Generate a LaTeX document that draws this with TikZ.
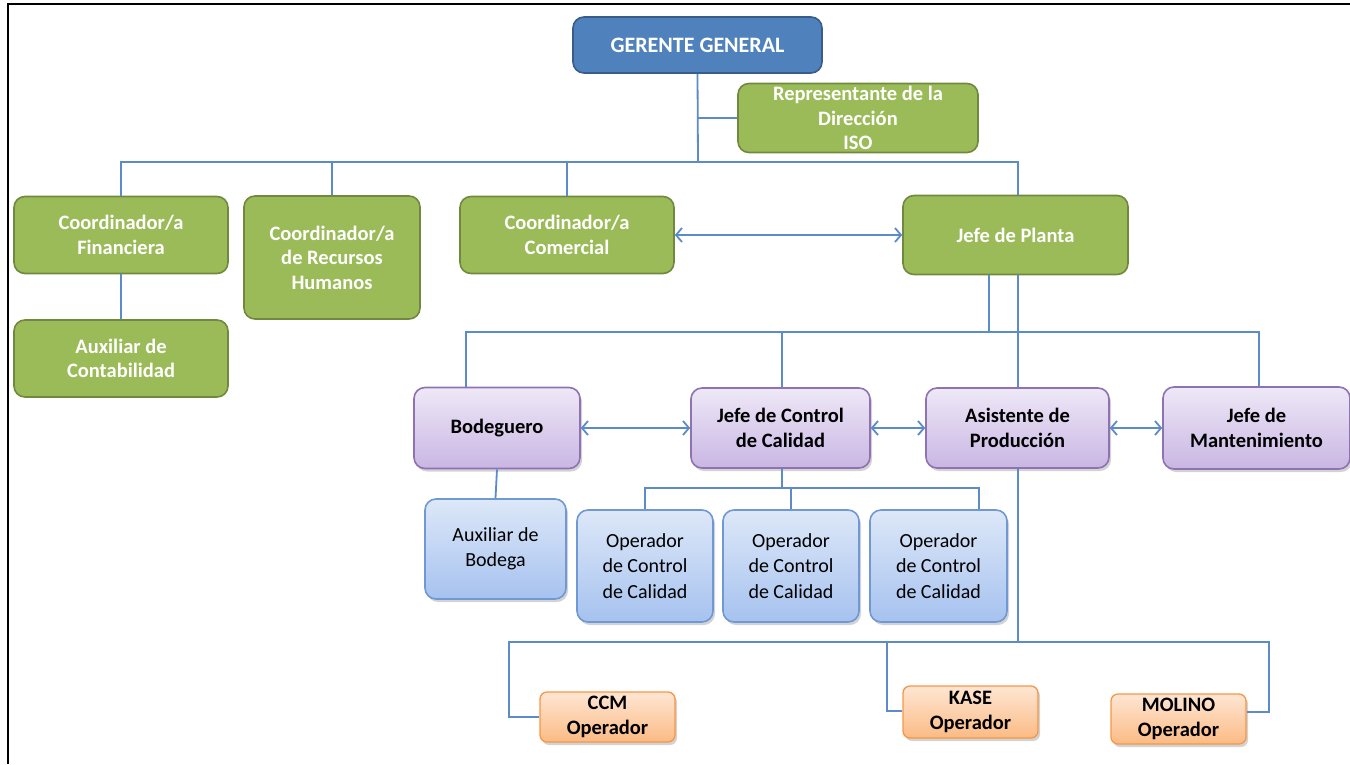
\documentclass[tikz,border=0pt]{standalone}
\usepackage{fontspec}
\setmainfont{Carlito}
\usetikzlibrary{arrows.meta,shadows}
\definecolor{azul}{HTML}{4F81BD}
\definecolor{azulosc}{HTML}{385D8A}
\definecolor{verde}{HTML}{9BBB59}
\definecolor{verdeosc}{HTML}{71893F}
\definecolor{lineaazul}{HTML}{5B8BC8}
\definecolor{moradoarr}{HTML}{EEE8F7}
\definecolor{moradoab}{HTML}{C9B6E3}
\definecolor{moradoosc}{HTML}{8E72B2}
\definecolor{celestearr}{HTML}{DDE8F8}
\definecolor{celesteab}{HTML}{A6C2EF}
\definecolor{celesteosc}{HTML}{6F98D4}
\definecolor{naranjaarr}{HTML}{FEE6D3}
\definecolor{naranjaab}{HTML}{FBBB85}
\definecolor{naranjaosc}{HTML}{F79646}
\begin{document}
\begin{tikzpicture}[x=1pt, y=-1pt,
  caja/.style={rounded corners=11pt, line width=1.6pt, align=center, inner sep=0pt,
    font=\fontsize{20.5}{24.5}\selectfont\bfseries},
  gerente/.style={caja, fill=azul, draw=azulosc, text=white, font=\fontsize{22}{26}\selectfont\bfseries},
  verdecaja/.style={caja, fill=verde, draw=verdeosc, text=white},
  sombra/.style={drop shadow={opacity=0.35, shadow xshift=2pt, shadow yshift=-3pt}},
  morado/.style={caja, sombra, top color=moradoarr, bottom color=moradoab, draw=moradoosc},
  celeste/.style={caja, sombra, top color=celestearr, bottom color=celesteab, draw=celesteosc,
    font=\fontsize{20}{25.5}\selectfont},
  naranja/.style={caja, sombra, rounded corners=7pt, line width=1.3pt, top color=naranjaarr,
    bottom color=naranjaab, draw=naranjaosc},
  linea/.style={draw=lineaazul, line width=1.8pt},
  doble/.style={linea, {Straight Barb[length=6pt,width=14pt]}-{Straight Barb[length=6pt,width=14pt]}}]
  \useasboundingbox (0,0) rectangle (1350,764);
  \draw[line width=2.5pt] (8,764) -- (8,4) -- (1350,4);

  % primer nivel
  \node[gerente, minimum width=249pt, minimum height=56pt] (gg) at (697.5,45) {GERENTE GENERAL};
  \node[verdecaja, minimum width=240pt, minimum height=69pt] (rep) at (858,118) {Representante de la\\Dirección\\ISO};

  % coordinadores
  \node[verdecaja, minimum width=214pt, minimum height=77pt] (cfin) at (121,235) {Coordinador/a\\Financiera};
  \node[verdecaja, minimum width=176pt, minimum height=123pt] (crh) at (332,257.5) {Coordinador/a\\de Recursos\\Humanos};
  \node[verdecaja, minimum width=214pt, minimum height=77pt] (ccom) at (567,235) {Coordinador/a\\Comercial};
  \node[verdecaja, minimum width=225pt, minimum height=79pt] (jplanta) at (1015.5,235) {Jefe de Planta};
  \node[verdecaja, minimum width=214pt, minimum height=77pt] (auxcont) at (121,358.5) {Auxiliar de\\Contabilidad};

  % planta
  \node[morado, minimum width=166pt, minimum height=81pt] (bodeg) at (497,428) {Bodeguero};
  \node[morado, minimum width=179pt, minimum height=80pt] (jcc) at (780.5,428) {Jefe de Control\\de Calidad};
  \node[morado, minimum width=183pt, minimum height=80pt] (asist) at (1017.5,428) {Asistente de\\Producción};
  \node[morado, minimum width=187pt, minimum height=82pt] (jmant) at (1256.5,428) {Jefe de\\Mantenimiento};

  \node[celeste, minimum width=141pt, minimum height=100pt] (auxbod) at (495.5,549) {Auxiliar de\\Bodega};
  \node[celeste, minimum width=136pt, minimum height=112pt] (op1) at (645,566) {Operador\\de Control\\de Calidad};
  \node[celeste, minimum width=136pt, minimum height=112pt] (op2) at (791,566) {Operador\\de Control\\de Calidad};
  \node[celeste, minimum width=137pt, minimum height=112pt] (op3) at (938.5,566) {Operador\\de Control\\de Calidad};

  \node[naranja, minimum width=135pt, minimum height=50pt] (ccm) at (607.5,717) {CCM\\Operador};
  \node[naranja, minimum width=135pt, minimum height=52pt] (kase) at (970.5,712) {KASE\\Operador};
  \node[naranja, minimum width=135pt, minimum height=50pt] (molino) at (1178.5,719) {MOLINO\\Operador};

  % conectores
  \coordinate (b1) at (698,162);
  \coordinate (b2) at (989,332);
  \coordinate (b3) at (782,488);
  \coordinate (b4) at (1018,642);
  \draw[linea] (gg.south) -- (b1);
  \draw[linea] (rep.west) -- (rep.west -| b1);
  \draw[linea] (cfin.north) |- (b1) -| ([xshift=2.5pt]jplanta.north);
  \draw[linea] (crh.north) -- (crh.north |- b1);
  \draw[linea] (ccom.north) -- (ccom.north |- b1);
  \draw[linea] (cfin) -- (auxcont);
  \draw[doble] (ccom.east) -- (jplanta.west);

  \draw[linea] (jplanta.south -| b2) -- (b2);
  \draw[linea] ([xshift=-31pt]bodeg.north) |- (b2) -| ([xshift=2.5pt]jmant.north);
  \draw[linea] ([xshift=1.5pt]jcc.north) -- ([xshift=1.5pt]jcc.north |- b2);
  \draw[linea] (jplanta.south -| b4) -- (asist.north -| b4);
  \draw[doble] (bodeg.east) -- (jcc.west);
  \draw[doble] (jcc.east) -- (asist.west);
  \draw[doble] (asist.east) -- (jmant.west);

  \draw[linea] (bodeg.south) -- (auxbod.north);
  \draw[linea] (jcc.south -| b3) -- (b3);
  \draw[linea] (op1.north) |- (b3) -| ([xshift=40.5pt]op3.north);
  \draw[linea] (op2.north) -- (op2.north |- b3);

  \draw[linea] (asist.south -| b4) -- (b4);
  \draw[linea] (ccm.west) -- ++(-30,0) |- (b4);
  \draw[linea] ([yshift=1pt]kase.west) -- ++(-15,0) |- (b4);
  \draw[linea] ([yshift=7pt]molino.east) -- ++(22,0) |- (b4);
\end{tikzpicture}
\end{document}
